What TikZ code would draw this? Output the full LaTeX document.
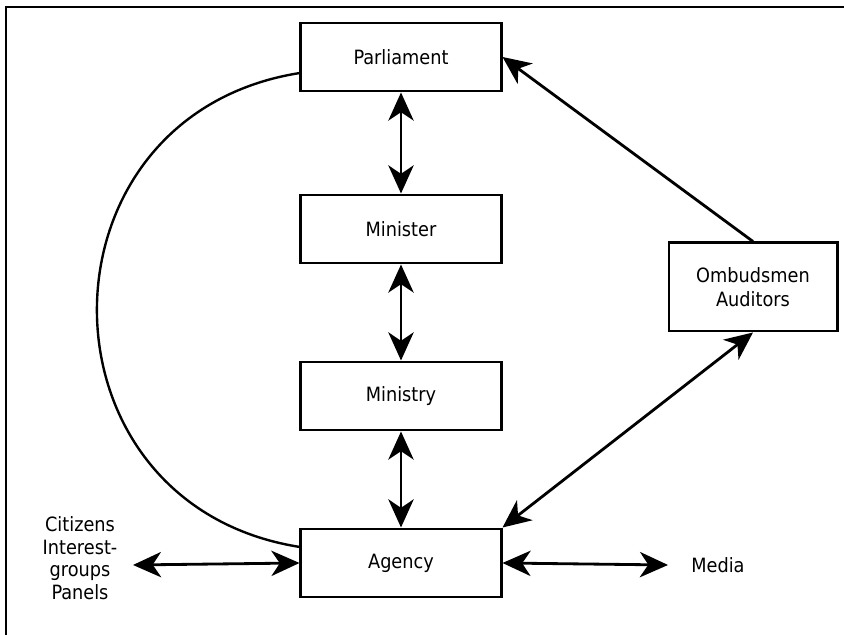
\documentclass[tikz,border=0pt]{standalone}
\usepackage{fontspec}
\setmainfont{DejaVu Sans Condensed}
\usetikzlibrary{arrows.meta}

\begin{document}
\begin{tikzpicture}[x=0.025cm, y=0.025cm,
        box/.style={draw, line width=2.1pt, minimum width=5cm, minimum height=1.7cm,
            align=center, font=\fontsize{14}{17}\selectfont},
        lbl/.style={align=center, font=\fontsize{14}{16}\selectfont},
        dbl/.style={line width=2pt, {Stealth[length=20pt,width=18pt,inset=6pt]}-{Stealth[length=20pt,width=18pt,inset=6pt]}},
        sgl/.style={line width=2pt, -{Stealth[length=20pt,width=18pt,inset=6pt]}}]
        \useasboundingbox (0,0) rectangle (844,635);
        % Draw frame
        \draw[line width=1.6pt] (6,0) -- (6,628) -- (844,628);

        % Draw boxes
        \node[box] (parl) at (401,578) {Parliament};
        \node[box] (minister) at (401,406) {Minister};
        \node[box] (ministry) at (401,239) {Ministry};
        \node[box] (agency) at (401,72) {Agency};
        \node[box, minimum width=4.2cm, minimum height=2.2cm] (omb) at (753,348) {Ombudsmen\\Auditors};

        % Outside labels
        \node[lbl] (citizens) at (80,77) {Citizens\\Interest-\\groups\\Panels};
        \node[lbl] (media) at (718,70) {Media};
        \coordinate (cit-end) at (133,70);
        \coordinate (media-end) at (668,70);

        % Draw arrows
        \draw[dbl] (parl) -- (minister);
        \draw[dbl] (minister) -- (ministry);
        \draw[dbl] (ministry) -- (agency);
        \draw[sgl] (omb.north) -- (parl.east);
        \draw[dbl] (omb.south) -- (agency.north east);
        \draw[dbl] (agency.west) -- (cit-end);
        \draw[dbl] (agency.east) -- (media-end);

        % Draw arc
        \draw[line width=1.7pt] (parl.189) to[out=189, in=171, looseness=1.48] (agency.171);
    \end{tikzpicture}
\end{document}
